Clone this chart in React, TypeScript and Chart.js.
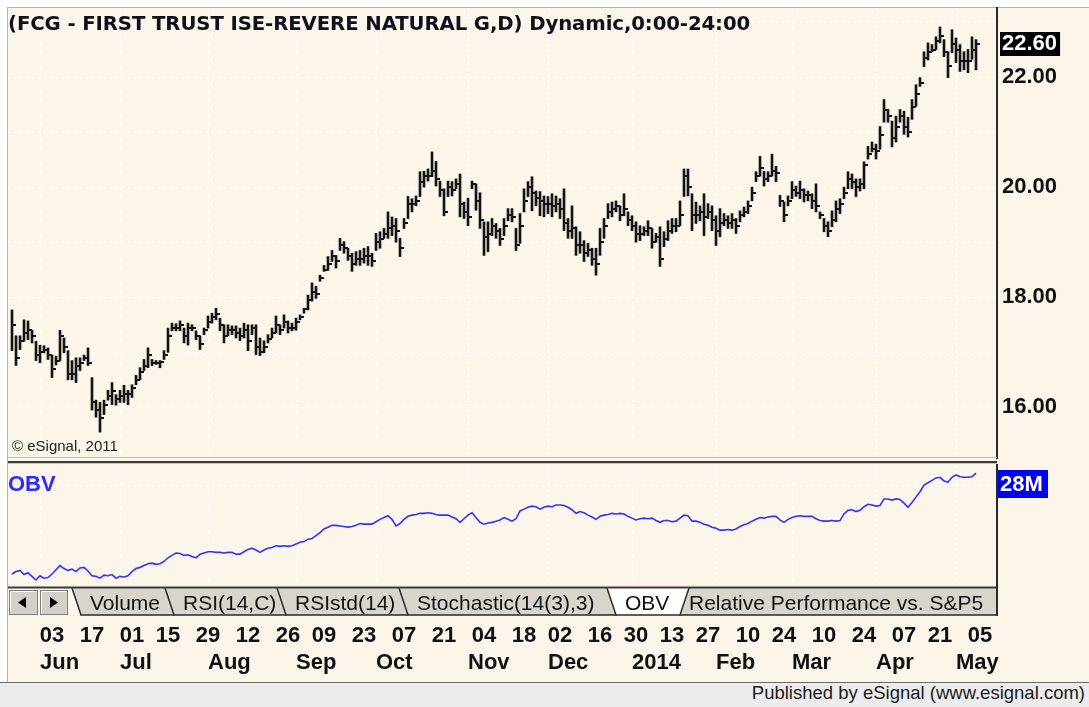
import React, { useEffect, useRef } from 'react';
import { Chart, registerables } from 'chart.js';

Chart.register(...registerables);

// Bar index 0 = Mon 03 Jun 2013 (one bar per trading session); first bar is 10 sessions earlier.
const FIRST_BAR = -10;

const highs = [
  17.77, 17.30, 17.30, 17.59, 17.57, 17.40, 17.20, 17.13, 17.12, 17.08,
  16.95, 16.93, 17.40, 17.26, 17.03, 16.85, 16.90, 16.90, 16.95, 17.08,
  16.54, 16.13, 16.09, 16.13, 16.31, 16.45, 16.23, 16.31, 16.40, 16.31,
  16.41, 16.58, 16.72, 16.87, 17.08, 16.87, 16.85, 16.85, 17.03, 17.44,
  17.53, 17.52, 17.57, 17.44, 17.53, 17.50, 17.39, 17.30, 17.44, 17.66,
  17.71, 17.80, 17.62, 17.50, 17.50, 17.48, 17.48, 17.44, 17.53, 17.50,
  17.50, 17.50, 17.26, 17.21, 17.32, 17.44, 17.66, 17.50, 17.68, 17.57,
  17.53, 17.62, 17.68, 17.80, 18.04, 18.26, 18.20, 18.40, 18.58, 18.74,
  18.85, 18.76, 19.07, 19.01, 18.89, 18.80, 18.83, 18.85, 18.89, 18.92,
  18.80, 19.16, 19.19, 19.25, 19.55, 19.46, 19.43, 19.07, 19.43, 19.83,
  19.79, 19.84, 20.28, 20.29, 20.33, 20.64, 20.47, 20.11, 19.97, 20.11,
  20.10, 20.15, 20.24, 19.73, 19.80, 20.11, 20.06, 19.90, 19.37, 19.37,
  19.43, 19.34, 19.25, 19.43, 19.61, 19.61, 19.25, 19.52, 19.97, 20.10,
  20.19, 19.93, 19.92, 19.84, 19.83, 19.88, 19.84, 19.79, 19.97, 19.43,
  19.66, 19.28, 19.19, 19.03, 18.98, 18.89, 18.89, 19.25, 19.43, 19.70,
  19.73, 19.75, 19.66, 19.88, 19.55, 19.48, 19.37, 19.30, 19.28, 19.39,
  19.25, 19.16, 19.28, 19.19, 19.39, 19.43, 19.43, 19.75, 20.33, 20.33,
  19.88, 19.73, 19.66, 19.88, 19.70, 19.66, 19.48, 19.61, 19.52, 19.48,
  19.52, 19.43, 19.57, 19.64, 19.75, 20.00, 20.28, 20.56, 20.29, 20.28,
  20.60, 20.38, 19.85, 19.73, 19.84, 20.10, 20.02, 20.11, 19.97, 19.93,
  19.88, 20.06, 19.55, 19.43, 19.37, 19.57, 19.75, 19.79, 20.00, 20.28,
  20.24, 20.15, 20.15, 20.46, 20.74, 20.82, 20.78, 21.10, 21.59, 21.41,
  21.20, 21.29, 21.41, 21.38, 21.27, 21.59, 21.86, 21.99, 22.46, 22.62,
  22.59, 22.73, 22.91, 22.68, 22.46, 22.86, 22.71, 22.59, 22.46, 22.50,
  22.73, 22.68,
];

const lows = [
  17.03, 16.76, 17.05, 17.20, 17.23, 17.17, 16.85, 16.81, 16.99, 16.87,
  16.54, 16.77, 16.85, 16.99, 16.50, 16.50, 16.45, 16.67, 16.85, 16.76,
  15.95, 15.82, 15.55, 15.87, 16.13, 16.05, 16.04, 16.09, 16.09, 16.05,
  16.18, 16.41, 16.50, 16.67, 16.72, 16.76, 16.78, 16.72, 16.87, 17.00,
  17.39, 17.39, 17.39, 17.17, 17.13, 17.39, 17.23, 17.05, 17.32, 17.44,
  17.53, 17.59, 17.39, 17.17, 17.30, 17.32, 17.26, 17.21, 17.26, 17.03,
  17.32, 16.96, 16.94, 16.99, 17.17, 17.26, 17.35, 17.32, 17.44, 17.35,
  17.39, 17.40, 17.59, 17.71, 17.77, 17.93, 17.98, 18.29, 18.47, 18.49,
  18.65, 18.53, 18.85, 18.80, 18.67, 18.47, 18.58, 18.58, 18.62, 18.58,
  18.56, 18.85, 18.89, 19.07, 19.07, 19.12, 19.00, 18.74, 19.25, 19.43,
  19.55, 19.66, 19.83, 20.00, 20.11, 20.19, 20.02, 19.83, 19.48, 19.83,
  19.84, 19.97, 19.46, 19.43, 19.30, 19.97, 19.58, 19.25, 18.76, 18.83,
  19.12, 19.07, 18.94, 19.12, 19.39, 19.37, 18.85, 18.98, 19.55, 19.83,
  19.57, 19.66, 19.48, 19.46, 19.52, 19.46, 19.55, 19.43, 19.21, 19.07,
  19.07, 18.76, 18.80, 18.65, 18.74, 18.58, 18.40, 18.76, 19.07, 19.43,
  19.46, 19.55, 19.39, 19.48, 19.30, 19.21, 19.00, 19.03, 19.12, 19.12,
  18.89, 19.00, 18.56, 18.92, 19.03, 19.16, 19.19, 19.30, 19.83, 19.84,
  19.21, 19.34, 19.39, 19.12, 19.43, 19.21, 18.94, 19.10, 19.30, 19.25,
  19.25, 19.16, 19.37, 19.46, 19.52, 19.75, 20.10, 20.20, 20.02, 20.10,
  20.20, 20.10, 19.65, 19.37, 19.66, 19.79, 19.83, 19.79, 19.73, 19.75,
  19.61, 19.55, 19.43, 19.19, 19.10, 19.28, 19.37, 19.52, 19.79, 19.97,
  19.97, 19.83, 19.93, 19.97, 20.51, 20.64, 20.51, 20.69, 21.18, 21.18,
  20.73, 20.82, 21.18, 20.96, 20.91, 21.23, 21.47, 21.83, 22.19, 22.31,
  22.46, 22.50, 22.62, 22.37, 21.99, 22.44, 22.26, 22.10, 22.13, 22.08,
  22.32, 22.13,
];

const closes = [
  17.50, 16.90, 17.20, 17.35, 17.40, 17.30, 16.95, 17.00, 17.05, 16.95,
  16.70, 16.85, 17.30, 17.10, 16.60, 16.60, 16.75, 16.80, 16.90, 16.80,
  16.10, 15.95, 15.80, 16.05, 16.20, 16.30, 16.15, 16.20, 16.25, 16.25,
  16.35, 16.50, 16.65, 16.75, 16.95, 16.80, 16.80, 16.82, 16.95, 17.30,
  17.45, 17.45, 17.50, 17.30, 17.45, 17.45, 17.30, 17.15, 17.40, 17.55,
  17.65, 17.70, 17.50, 17.30, 17.40, 17.40, 17.35, 17.30, 17.40, 17.20,
  17.45, 17.10, 17.00, 17.10, 17.25, 17.35, 17.50, 17.40, 17.55, 17.45,
  17.45, 17.55, 17.65, 17.78, 17.95, 18.10, 18.05, 18.35, 18.50, 18.60,
  18.75, 18.65, 18.95, 18.90, 18.75, 18.60, 18.70, 18.70, 18.75, 18.75,
  18.65, 19.00, 19.05, 19.15, 19.25, 19.30, 19.20, 18.90, 19.35, 19.70,
  19.70, 19.75, 20.10, 20.20, 20.20, 20.30, 20.15, 19.95, 19.55, 20.00,
  19.95, 20.05, 19.70, 19.55, 19.45, 20.05, 19.75, 19.40, 19.10, 19.15,
  19.30, 19.20, 19.05, 19.30, 19.50, 19.45, 18.95, 19.30, 19.75, 20.00,
  19.90, 19.80, 19.75, 19.70, 19.70, 19.65, 19.70, 19.60, 19.35, 19.20,
  19.25, 18.95, 18.95, 18.80, 18.85, 18.70, 18.60, 19.00, 19.30, 19.55,
  19.60, 19.65, 19.50, 19.60, 19.40, 19.30, 19.15, 19.15, 19.20, 19.25,
  19.00, 19.10, 18.70, 19.05, 19.20, 19.30, 19.30, 19.50, 20.20, 20.00,
  19.50, 19.50, 19.55, 19.45, 19.55, 19.40, 19.20, 19.35, 19.40, 19.35,
  19.40, 19.30, 19.50, 19.55, 19.65, 19.90, 20.20, 20.35, 20.15, 20.20,
  20.30, 20.25, 19.75, 19.50, 19.75, 19.95, 19.90, 19.95, 19.85, 19.85,
  19.75, 19.65, 19.50, 19.30, 19.20, 19.40, 19.60, 19.70, 19.90, 20.15,
  20.10, 20.00, 20.05, 20.40, 20.60, 20.70, 20.65, 20.95, 21.40, 21.30,
  20.90, 21.10, 21.30, 21.10, 21.00, 21.45, 21.70, 21.90, 22.35, 22.45,
  22.50, 22.65, 22.75, 22.45, 22.20, 22.60, 22.50, 22.30, 22.30, 22.30,
  22.50, 22.60,
];

// On Balance Volume, in millions of shares
const obvMillions = [
  11.2, 11.6, 11.8, 11.1, 11.4, 10.8, 10.2, 10.9, 10.5, 10.6,
  11.2, 11.9, 12.6, 12.1, 11.8, 12.0, 11.6, 12.2, 12.3, 11.7,
  10.9, 10.8, 10.5, 11.0, 10.9, 11.1, 10.5, 10.8, 10.7, 10.9,
  11.6, 12.1, 12.3, 12.6, 12.9, 13.0, 12.8, 12.9, 13.3, 13.9,
  14.3, 14.7, 14.6, 14.3, 14.4, 14.1, 13.9, 14.5, 14.7, 14.9,
  14.9, 14.8, 14.8, 14.7, 14.8, 14.8, 14.5, 14.5, 14.9, 15.3,
  15.5, 15.2, 14.8, 15.2, 15.5, 15.6, 15.9, 15.8, 15.9, 15.8,
  15.9, 16.2, 16.5, 16.6, 17.0, 17.1, 17.6, 18.1, 18.7, 19.0,
  19.3, 19.3, 19.2, 19.1, 19.0, 19.1, 19.3, 19.6, 19.5, 19.5,
  19.5, 19.9, 20.3, 20.6, 20.9, 20.3, 19.2, 19.6, 20.3, 20.8,
  21.0, 21.1, 21.3, 21.3, 21.4, 21.3, 21.1, 21.0, 21.0, 21.0,
  20.7, 20.4, 19.8, 20.4, 21.0, 21.4, 20.6, 19.8, 19.5, 19.7,
  19.8, 20.0, 20.2, 20.6, 20.3, 20.0, 20.4, 21.7, 22.0, 22.3,
  22.5, 22.4, 22.0, 22.3, 22.5, 22.4, 22.7, 22.7, 22.6, 22.3,
  21.9, 21.3, 21.6, 21.4, 21.0, 20.7, 20.3, 20.8, 21.0, 21.1,
  21.3, 21.2, 21.3, 21.2, 20.8, 20.5, 20.2, 20.4, 20.5, 20.4,
  20.5, 20.1, 19.8, 20.1, 20.1, 19.9, 20.0, 20.5, 21.0, 20.9,
  20.0, 20.0, 19.8, 19.5, 19.3, 19.0, 18.8, 18.5, 18.5, 18.6,
  18.5, 18.7, 19.1, 19.4, 19.6, 20.0, 20.3, 20.6, 20.5, 20.7,
  20.8, 20.8, 20.2, 19.8, 20.3, 20.6, 20.8, 20.9, 20.8, 20.8,
  20.8, 20.4, 20.1, 20.0, 20.0, 20.1, 20.0, 20.1, 21.2, 21.8,
  21.9, 21.6, 21.8, 22.4, 22.8, 22.7, 22.5, 22.6, 23.7, 23.7,
  23.5, 23.7, 23.6, 23.0, 22.3, 23.1, 24.0, 24.9, 26.0, 26.4,
  26.8, 27.2, 27.3, 26.7, 26.5, 27.3, 27.7, 27.4, 27.3, 27.3,
  27.4, 28.0,
];

const priceGridValues = [16, 17, 18, 19, 20, 21, 22, 23];
const obvGridValues = [26];

const dayTickBars = [0, 10, 20, 29, 39, 49, 59, 68, 78, 88, 98, 108, 118, 127, 137, 146, 155, 164, 174, 183, 193, 203, 213, 222, 232];
const dayTickLabels = ['03', '17', '01', '15', '29', '12', '26', '09', '23', '07', '21', '04', '18', '02', '16', '30', '13', '27', '10', '24', '10', '24', '07', '21', '05'];
const monthStartBars = [0, 20, 42, 64, 84, 107, 127, 148, 169, 188, 209, 229];
const monthLabels = ['Jun', 'Jul', 'Aug', 'Sep', 'Oct', 'Nov', 'Dec', '2014', 'Feb', 'Mar', 'Apr', 'May'];

const tabLabels = ['Volume', 'RSI(14,C)', 'RSIstd(14)', 'Stochastic(14(3),3)', 'OBV', 'Relative Performance vs. S&P5'];
const activeTab = 'OBV';

const TITLE = '(FCG - FIRST TRUST ISE-REVERE NATURAL G,D) Dynamic,0:00-24:00';

// ---- layout / style ----
const X_MIN = -11;
const X_MAX = 236.25;
const MONTH_LEAD = 3;
const CREAM = '#fcf6ea';
const INK = '#141414';
const SANS = '"Liberation Sans", Arial, sans-serif';
const TAB_LEFT = [72, 165, 277, 399, 607, 671];
const TAB_RIGHT = [183, 295, 417, 625, 689, 1006];
const DOT = 'rgba(255,255,255,0.95)';

const zeroPad = (s: any) => {
  s.paddingLeft = 0;
  s.paddingRight = 0;
  s.paddingTop = 0;
  s.paddingBottom = 0;
};

function Tabs() {
  const top = 2;
  const bot = 29;
  const slant = 9;
  const activeIdx = tabLabels.indexOf(activeTab);
  const order: number[] = [];
  for (let k = tabLabels.length - 1; k > activeIdx; k--) order.push(k);
  for (let k = 0; k < activeIdx; k++) order.push(k);
  order.push(activeIdx);
  return (
    <svg width={1000} height={32} style={{ position: 'absolute', left: 0, top: 586 }}>
      <defs>
        <clipPath id="tabclip">
          <rect x={0} y={0} width={997} height={32} />
        </clipPath>
      </defs>
      <g clipPath="url(#tabclip)">
        {order.map((k) => {
          const L = TAB_LEFT[k];
          const R = TAB_RIGHT[k];
          const active = k === activeIdx;
          return (
            <g key={k}>
              <path d={`M${L},${top} L${L + slant},${bot} L${R - slant},${bot} L${R},${top} Z`} fill={active ? '#ffffff' : '#d9d5cc'} />
              <path d={`M${L},${top} L${L + slant},${bot} L${R - slant},${bot} L${R},${top}`} fill="none" stroke="#2a2a2a" strokeWidth={1.5} />
              <text x={L + 18} y={24} fontFamily={SANS} fontSize={21} fill="#111">
                {tabLabels[k]}
              </text>
            </g>
          );
        })}
      </g>
      <line x1={8} y1={1.5} x2={997} y2={1.5} stroke="#3a3a3a" strokeWidth={2} />
      <line x1={997} y1={0} x2={997} y2={30} stroke="#2a2a2a" strokeWidth={2} />
      <rect x={9.5} y={4.5} width={28} height={24} fill="#d4d0c8" stroke="#7d7d7d" />
      <polyline points="10.5,27.5 10.5,5.5 36.5,5.5" fill="none" stroke="#ffffff" />
      <polygon points="18,16.5 26,11 26,22" fill="#000" />
      <rect x={40.5} y={4.5} width={27} height={24} fill="#d4d0c8" stroke="#7d7d7d" />
      <polyline points="41.5,27.5 41.5,5.5 66.5,5.5" fill="none" stroke="#ffffff" />
      <polygon points="50,11 50,22 58,16.5" fill="#000" />
    </svg>
  );
}

export default function App() {
  const priceRef = useRef<HTMLCanvasElement>(null);
  const obvRef = useRef<HTMLCanvasElement>(null);

  useEffect(() => {
    const lastClose = closes[closes.length - 1];
    const lastObv = obvMillions[obvMillions.length - 1];

    const tickImg = document.createElement('canvas');
    tickImg.width = 8;
    tickImg.height = 2;
    const tctx = tickImg.getContext('2d')!;
    tctx.fillStyle = INK;
    tctx.fillRect(4, 0, 4, 2);

    const isLast = (c: any) => c && c.tick && c.tick.value === lastClose;

    const price = new Chart(priceRef.current!, {
      type: 'bar',
      data: {
        datasets: [
          {
            type: 'bar',
            data: highs.map((h, k) => ({ x: FIRST_BAR + k, y: [lows[k], h] })) as any,
            backgroundColor: INK,
            barThickness: 2,
            grouped: false,
            borderWidth: 0,
          } as any,
          {
            type: 'scatter',
            data: closes.map((c, k) => ({ x: FIRST_BAR + k, y: c })),
            pointStyle: tickImg as any,
            pointRadius: 3,
            pointHoverRadius: 3,
          } as any,
        ],
      },
      options: {
        responsive: false,
        animation: false,
        devicePixelRatio: 1,
        events: [],
        layout: { padding: { left: 8, top: 8, bottom: 1, right: 0 } },
        plugins: { legend: { display: false }, tooltip: { enabled: false } },
        scales: {
          x: {
            type: 'linear',
            offset: false,
            min: X_MIN,
            max: X_MAX,
            afterBuildTicks: (s: any) => {
              s.ticks = monthStartBars.map((b) => ({ value: b - MONTH_LEAD }));
            },
            afterFit: (s: any) => {
              s.height = 0;
              zeroPad(s);
            },
            ticks: { display: false },
            grid: { color: DOT, drawTicks: false, lineWidth: 1, offset: false },
            border: { display: false, dash: [2, 4] },
          },
          y: {
            type: 'linear',
            position: 'right',
            min: 15.08,
            max: 23.254,
            afterBuildTicks: (s: any) => {
              s.ticks = [...priceGridValues, lastClose].sort((a, b) => a - b).map((v) => ({ value: v }));
            },
            afterFit: (s: any) => {
              s.width = 92;
              zeroPad(s);
            },
            ticks: {
              autoSkip: false,
              padding: 5,
              font: { family: SANS, size: 22, weight: 'bold', lineHeight: 1.0 },
              color: (c: any) => (isLast(c) ? '#ffffff' : '#111111'),
              showLabelBackdrop: (c: any) => isLast(c),
              backdropColor: '#000000',
              backdropPadding: { left: 2, right: 3, top: 1, bottom: 1 },
              callback: (v: any) => (v === lastClose ? Number(v).toFixed(2) : v % 2 === 0 ? Number(v).toFixed(2) : ''),
            } as any,
            grid: {
              color: (c: any) => (isLast(c) ? 'rgba(0,0,0,0)' : DOT),
              drawTicks: false,
            },
            border: { display: true, color: '#2a2a2a', width: 2, dash: [2, 4] },
          },
        },
      } as any,
    });

    const lastLabel = {
      id: 'obvLastLabel',
      afterDraw(chart: any) {
        const { ctx, chartArea } = chart;
        const ys = chart.scales.y;
        let py = ys.getPixelForValue(lastObv);
        py = Math.max(py, chartArea.top + 19);
        ctx.save();
        ctx.fillStyle = '#0000ff';
        ctx.fillRect(chartArea.right + 1, Math.round(py - 14), 50, 28);
        ctx.fillStyle = '#ffffff';
        ctx.font = `bold 22px ${SANS}`;
        ctx.textBaseline = 'middle';
        ctx.fillText(`${Math.round(lastObv)}M`, chartArea.right + 3, py + 1);
        ctx.restore();
      },
    };

    const tickFont = { family: SANS, size: 22, weight: 'bold', lineHeight: 1.2 };

    const obv = new Chart(obvRef.current!, {
      type: 'line',
      data: {
        datasets: [
          {
            data: obvMillions.map((v, k) => ({ x: FIRST_BAR + k, y: v })),
            xAxisID: 'xDays',
            yAxisID: 'y',
            borderColor: '#3232ff',
            borderWidth: 1.6,
            pointRadius: 0,
            tension: 0,
            fill: false,
          },
        ],
      },
      options: {
        responsive: false,
        animation: false,
        devicePixelRatio: 1,
        events: [],
        layout: { padding: { left: 8, top: 3, bottom: 7, right: 0 } },
        plugins: { legend: { display: false }, tooltip: { enabled: false } },
        scales: {
          xDays: {
            type: 'linear',
            axis: 'x',
            position: 'bottom',
            offset: false,
            weight: 0,
            min: X_MIN,
            max: X_MAX,
            afterBuildTicks: (s: any) => {
              s.ticks = dayTickBars.map((b) => ({ value: b }));
            },
            afterFit: (s: any) => {
              s.height = 63;
              zeroPad(s);
            },
            ticks: {
              autoSkip: false,
              maxRotation: 0,
              minRotation: 0,
              padding: 37,
              color: '#111111',
              font: tickFont,
              callback: (_v: any, i: number) => dayTickLabels[i],
            },
            grid: { display: false, drawTicks: false },
            border: { display: false },
          },
          xMonths: {
            type: 'linear',
            axis: 'x',
            position: 'bottom',
            offset: false,
            weight: 1,
            min: X_MIN,
            max: X_MAX,
            afterBuildTicks: (s: any) => {
              s.ticks = monthStartBars.map((b) => ({ value: b - MONTH_LEAD }));
            },
            afterFit: (s: any) => {
              s.height = 27;
              zeroPad(s);
            },
            ticks: {
              autoSkip: false,
              maxRotation: 0,
              minRotation: 0,
              align: 'start',
              padding: 1,
              color: '#111111',
              font: tickFont,
              callback: (_v: any, i: number) => monthLabels[i],
            },
            grid: { color: DOT, drawTicks: false, lineWidth: 1 },
            border: { display: false, dash: [2, 4] },
          },
          y: {
            type: 'linear',
            position: 'right',
            min: 9.2,
            max: 29.35,
            afterBuildTicks: (s: any) => {
              s.ticks = obvGridValues.map((v) => ({ value: v }));
            },
            afterFit: (s: any) => {
              s.width = 92;
              zeroPad(s);
            },
            ticks: { display: false },
            grid: { color: DOT, drawTicks: false },
            border: { display: true, color: '#2a2a2a', width: 2, dash: [2, 4] },
          },
        },
      } as any,
      plugins: [lastLabel],
    });

    return () => {
      price.destroy();
      obv.destroy();
    };
  }, []);

  return (
    <div
      style={{
        position: 'fixed',
        left: 0,
        top: 0,
        width: 1089,
        height: 707,
        background: '#ffffff',
        overflow: 'hidden',
        fontFamily: SANS,
      }}
    >
      <div
        style={{
          position: 'absolute',
          left: 7,
          top: 7,
          width: 1081,
          height: 675,
          background: CREAM,
          borderLeft: '1px solid #b4b4b4',
          borderTop: '1px solid #b4b4b4',
        }}
      />
      <canvas ref={priceRef} width={1089} height={462} style={{ position: 'absolute', left: 0, top: 0 }} />
      <canvas ref={obvRef} width={1089} height={221} style={{ position: 'absolute', left: 0, top: 462 }} />

      <div style={{ position: 'absolute', left: 8, top: 457, width: 989, height: 1, background: '#bdbdbd' }} />
      <div style={{ position: 'absolute', left: 8, top: 461, width: 989, height: 2, background: '#3a3a3a' }} />
      <div style={{ position: 'absolute', left: 8, top: 463, width: 989, height: 1, background: '#c4c4c4' }} />

      <div
        style={{
          position: 'absolute',
          left: 8,
          top: 12,
          fontFamily: '"DejaVu Sans", Verdana, sans-serif',
          fontWeight: 'bold',
          fontSize: 19.7,
          lineHeight: '24px',
          color: '#10101c',
          whiteSpace: 'nowrap',
          letterSpacing: -0.1,
        }}
      >
        {TITLE}
      </div>
      <div
        style={{
          position: 'absolute',
          left: 12,
          top: 438,
          fontSize: 15,
          lineHeight: '15px',
          color: '#222',
          whiteSpace: 'nowrap',
        }}
      >
        © eSignal, 2011
      </div>
      <div
        style={{
          position: 'absolute',
          left: 8,
          top: 473,
          fontSize: 22,
          fontWeight: 'bold',
          lineHeight: '22px',
          color: '#2a2aff',
        }}
      >
        OBV
      </div>

      <Tabs />

      <div
        style={{
          position: 'absolute',
          left: 0,
          top: 682,
          width: 1089,
          height: 25,
          background: '#ececec',
          borderTop: '1px solid #6a6a6a',
          boxSizing: 'border-box',
        }}
      />
      <div
        style={{
          position: 'absolute',
          right: 4,
          top: 684,
          fontSize: 18.5,
          lineHeight: '18.5px',
          color: '#1a1a1a',
          whiteSpace: 'nowrap',
        }}
      >
        Published by eSignal (www.esignal.com)
      </div>
    </div>
  );
}
